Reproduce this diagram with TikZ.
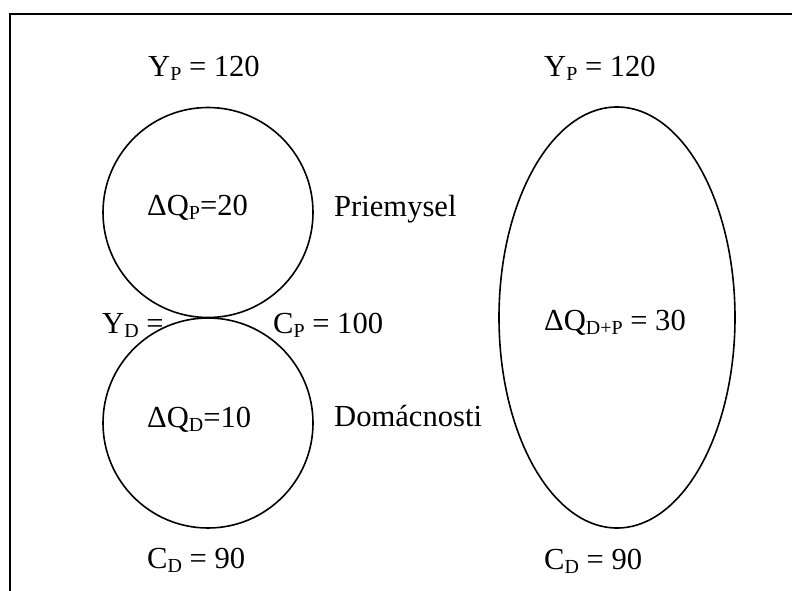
\documentclass[tikz,border=0pt]{standalone}
\usepackage{fontspec}
\setmainfont{Liberation Serif}
\usetikzlibrary{shapes.geometric}
\newcommand{\lowidx}[1]{\raisebox{-4bp}{\fontsize{20}{20}\selectfont #1}}
\tikzset{
  lbl/.style={inner sep=0pt, anchor=base west, font=\fontsize{30.7}{34}\selectfont},
  ring/.style={draw, line width=1.6bp, inner sep=0pt},
  frameline/.style={line width=2bp}
}
\begin{document}
\begin{tikzpicture}[x=1bp,y=-1bp]
\useasboundingbox (0,0) rectangle (792,591);
% frame
\coordinate (ftr) at (792,14);
\coordinate (ftl) at (10,14);
\coordinate (fbl) at (10,591);
\draw[frameline] (ftr) -- (ftl) -- (fbl);
% shapes
\node[ring, circle, minimum size=210bp] (cp) at (208,212.5) {};
\node[ring, circle, minimum size=210bp] (cd) at (208,423) {};
\node[ring, ellipse, minimum width=236bp, minimum height=421bp] (el) at (617,317.5) {};
% labels
\node[lbl] (yp1) at (148,77) {Y\lowidx{P} = 120};
\node[lbl] (yp2) at (544,77) {Y\lowidx{P} = 120};
\node[lbl] (qp) at (147,216) {ΔQ\lowidx{P}=20};
\node[lbl] (pr) at (334,217) {Priemysel};
\node[lbl] (yd) at (102,333) {Y\lowidx{D} =};
\node[lbl] (cpl) at (273,333) {C\lowidx{P} = 100};
\node[lbl] (qdp) at (544,330) {ΔQ\lowidx{D+P} = 30};
\node[lbl] (qd) at (147,427) {ΔQ\lowidx{D}=10};
\node[lbl] (dom) at (334,426) {Domácnosti};
\node[lbl] (cd1) at (147,568) {C\lowidx{D} = 90};
\node[lbl] (cd2) at (544,569) {C\lowidx{D} = 90};
\end{tikzpicture}
\end{document}
